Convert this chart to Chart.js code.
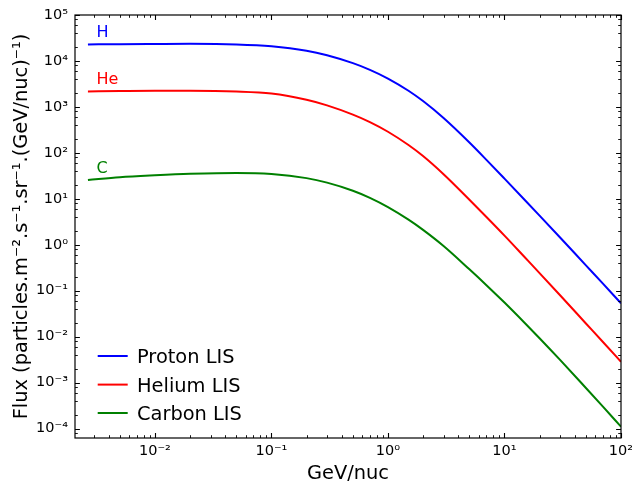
<!DOCTYPE html>
<html>
<head>
<meta charset="utf-8">
<script src="https://cdn.jsdelivr.net/npm/chart.js@4/dist/chart.umd.min.js"></script>
<style>
  html, body { margin: 0; padding: 0; background: #fff; }
  #wrap { width: 632px; height: 486px; }
</style>
</head>
<body>
<div id="wrap"><canvas id="chart" width="632" height="486"></canvas></div>
<script>
// kinetic energy per nucleon (GeV/nuc) and LIS fluxes
const energies   = [0.00266, 0.005, 0.01, 0.02, 0.05, 0.1, 0.2, 0.3, 0.5, 0.7, 1, 1.5, 2, 3, 5, 7, 10, 15, 20, 30, 50, 70, 100];
const protonFlux = [22900, 23200, 23400, 23550, 22900, 20900, 16700, 13300, 8950, 6400, 4140, 2250, 1340, 573, 168, 70.5, 27.5, 9.33, 4.31, 1.44, 0.357, 0.143, 0.0532];
const heliumFlux = [2170, 2210, 2240, 2240, 2160, 1950, 1430, 1080, 679, 467, 288, 148, 85.1, 34.2, 9.53, 4.02, 1.58, 0.528, 0.242, 0.0796, 0.0194, 0.00766, 0.00284];
const carbonFlux = [25.8, 29.5, 32.4, 34.9, 36.6, 34.7, 28.2, 22.5, 15.0, 10.5, 6.61, 3.52, 2.11, 0.940, 0.292, 0.132, 0.0552, 0.0196, 0.00925, 0.00312, 0.000764, 0.000300, 0.000110];

const seriesLabels = ['Proton LIS', 'Helium LIS', 'Carbon LIS'];
const curveTags    = ['H', 'He', 'C'];
const seriesColors = ['#0000ff', '#ff0000', '#008000'];

const xTicks = [1e-2, 1e-1, 1, 10, 100];
const yTicks = [1e-4, 1e-3, 1e-2, 1e-1, 1, 10, 100, 1e3, 1e4, 1e5];
const xRange = [0.00206, 100];
const yRange = [6.24e-5, 1e5];

const FONT = '"DejaVu Sans", sans-serif';
const SUP = { '-': '\u207B', '0': '\u2070', '1': '\u00B9', '2': '\u00B2', '3': '\u00B3',
              '4': '\u2074', '5': '\u2075', '6': '\u2076', '7': '\u2077', '8': '\u2078', '9': '\u2079' };

function powLabel(v) {
    const e = Math.round(Math.log10(v));
    return '10' + String(e).split('').map(function (c) { return SUP[c]; }).join('');
}

function toPoints(ys) {
    return energies.map(function (e, i) { return { x: e, y: ys[i] }; });
}

// frame + inward major/minor ticks on all four sides (matplotlib look)
const frameTicks = {
    id: 'frameTicks',
    afterDatasetsDraw: function (chart) {
        const ctx = chart.ctx, a = chart.chartArea, xs = chart.scales.x, ys = chart.scales.y;
        ctx.save();
        ctx.strokeStyle = '#000';

        function vtick(v, len, w) {
            const p = Math.round(xs.getPixelForValue(v)) + 0.5;
            ctx.lineWidth = w;
            ctx.beginPath();
            ctx.moveTo(p, a.bottom); ctx.lineTo(p, a.bottom - len);
            ctx.moveTo(p, a.top); ctx.lineTo(p, a.top + len);
            ctx.stroke();
        }
        function htick(v, len, w) {
            const p = Math.round(ys.getPixelForValue(v)) + 0.5;
            ctx.lineWidth = w;
            ctx.beginPath();
            ctx.moveTo(a.left, p); ctx.lineTo(a.left + len, p);
            ctx.moveTo(a.right, p); ctx.lineTo(a.right - len, p);
            ctx.stroke();
        }

        for (let d = -3; d <= 1; d++) {
            for (let m = 2; m <= 9; m++) {
                const v = m * Math.pow(10, d);
                if (v > xRange[0] && v < xRange[1]) vtick(v, 2.8, 0.9);
            }
        }
        xTicks.forEach(function (v) { vtick(v, 4.9, 1.1); });

        for (let d = -5; d <= 4; d++) {
            [2, 4, 6, 8].forEach(function (m) {
                const v = m * Math.pow(10, d);
                if (v > yRange[0] && v < yRange[1]) htick(v, 2.8, 0.9);
            });
        }
        yTicks.forEach(function (v) { htick(v, 4.9, 1.1); });

        ctx.lineWidth = 1.2;
        ctx.strokeRect(a.left, a.top, a.right - a.left, a.bottom - a.top);
        ctx.restore();
    }
};

// element tags next to the start of each curve, and the legend in the lower left
const annotations = {
    id: 'annotations',
    afterDraw: function (chart) {
        const ctx = chart.ctx, a = chart.chartArea, xs = chart.scales.x, ys = chart.scales.y;
        ctx.save();

        ctx.font = '16px ' + FONT;
        ctx.textBaseline = 'alphabetic';
        chart.data.datasets.forEach(function (ds, i) {
            const p0 = ds.data[0];
            ctx.fillStyle = ds.borderColor;
            ctx.fillText(curveTags[i], xs.getPixelForValue(p0.x) + 8.5, ys.getPixelForValue(p0.y) - 7);
        });

        ctx.font = '19.4px ' + FONT;
        const rowY = [a.bottom - 82, a.bottom - 53.4, a.bottom - 25];
        chart.data.datasets.forEach(function (ds, i) {
            const y = rowY[i];
            ctx.strokeStyle = ds.borderColor;
            ctx.lineWidth = 2;
            ctx.beginPath();
            ctx.moveTo(a.left + 22.7, y);
            ctx.lineTo(a.left + 52.7, y);
            ctx.stroke();
            ctx.fillStyle = '#000';
            ctx.fillText(ds.label, a.left + 62, y + 7);
        });
        ctx.restore();
    }
};

new Chart(document.getElementById('chart'), {
    type: 'line',
    data: {
        datasets: [protonFlux, heliumFlux, carbonFlux].map(function (ys, i) {
            return {
                label: seriesLabels[i],
                data: toPoints(ys),
                borderColor: seriesColors[i],
                backgroundColor: seriesColors[i],
                borderWidth: 2,
                pointRadius: 0,
                fill: false,
                cubicInterpolationMode: 'monotone'
            };
        })
    },
    options: {
        responsive: false,
        animation: false,
        layout: { padding: { top: 15, right: 11, left: 0, bottom: 0 } },
        plugins: {
            legend: { display: false },
            tooltip: { enabled: false }
        },
        scales: {
            x: {
                type: 'logarithmic',
                min: xRange[0],
                max: xRange[1],
                grid: { display: false, drawTicks: false },
                border: { display: false },
                afterBuildTicks: function (s) { s.ticks = xTicks.map(function (v) { return { value: v }; }); },
                afterFit: function (s) { s.height = 48; s.paddingLeft = 0; s.paddingRight = 0; },
                ticks: {
                    autoSkip: false, maxRotation: 0, padding: 5, color: '#000',
                    font: { family: FONT, size: 14.5 },
                    callback: function (v) { return powLabel(v); }
                },
                title: {
                    display: true, text: 'GeV/nuc', color: '#000',
                    font: { family: FONT, size: 19.4 },
                    padding: { top: 0, bottom: 0 }
                }
            },
            y: {
                type: 'logarithmic',
                min: yRange[0],
                max: yRange[1],
                grid: { display: false, drawTicks: false },
                border: { display: false },
                afterBuildTicks: function (s) { s.ticks = yTicks.map(function (v) { return { value: v }; }); },
                afterFit: function (s) { s.width = 75; s.paddingTop = 0; s.paddingBottom = 0; },
                ticks: {
                    autoSkip: false, padding: 7, color: '#000',
                    font: { family: FONT, size: 14.5 },
                    callback: function (v) { return powLabel(v); }
                },
                title: {
                    display: true,
                    text: 'Flux (particles.m\u207B\u00B2.s\u207B\u00B9.sr\u207B\u00B9.(GeV/nuc)\u207B\u00B9)',
                    color: '#000',
                    font: { family: FONT, size: 19.4 },
                    padding: { top: 10, bottom: 0 }
                }
            }
        }
    },
    plugins: [frameTicks, annotations]
});
</script>
</body>
</html>
